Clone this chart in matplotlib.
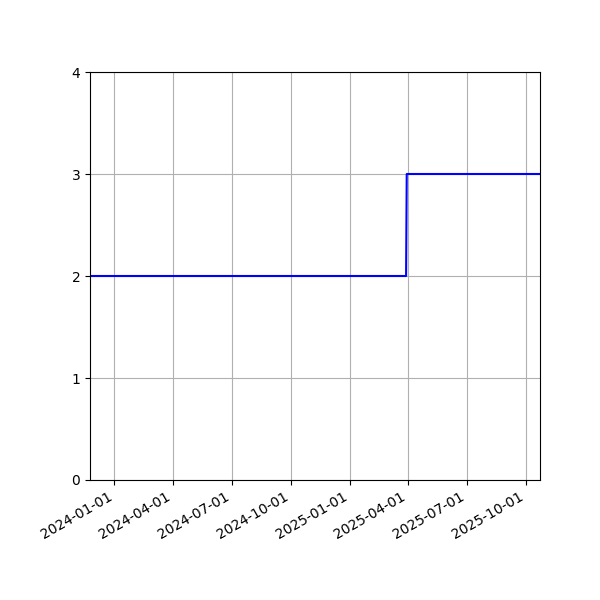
import matplotlib
matplotlib.use("Agg")
import matplotlib.pyplot as plt
import matplotlib.dates as mdates
import numpy as np

dates = np.array(["2023-11-24", "2025-03-29", "2025-03-30", "2025-10-23"], dtype="datetime64[D]")
values = [2, 2, 3, 3]

fig, ax = plt.subplots(figsize=(6, 6), dpi=100)
ax.plot(dates, values, color="blue")
ax.set_xlim(dates[0], dates[-1])
ax.set_ylim(0, 4)
ax.set_yticks([0, 1, 2, 3, 4])
ax.xaxis.set_major_locator(mdates.MonthLocator(bymonth=[1, 4, 7, 10]))
ax.xaxis.set_major_formatter(mdates.DateFormatter("%Y-%m-%d"))
ax.grid(True)
fig.autofmt_xdate()
fig.subplots_adjust(left=0.15, right=0.9, top=0.88, bottom=0.2)
fig.savefig("out.png")
